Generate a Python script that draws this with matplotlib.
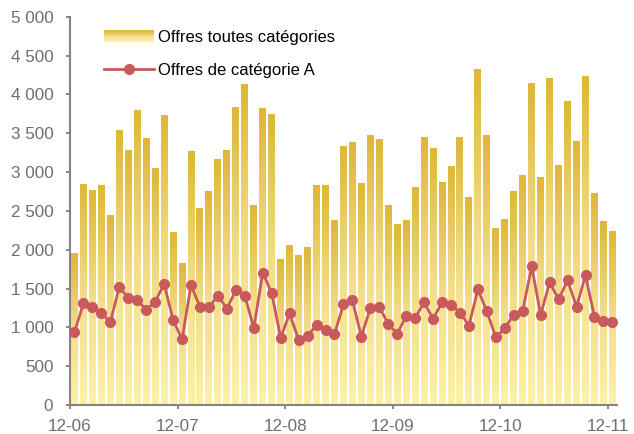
import matplotlib
matplotlib.use("Agg")
import matplotlib.pyplot as plt
import numpy as np
from matplotlib.colors import LinearSegmentedColormap
from matplotlib.legend_handler import HandlerBase
from matplotlib.patches import Rectangle
from matplotlib.lines import Line2D
from matplotlib.ticker import FuncFormatter

plt.rcParams['font.family'] = ['Liberation Sans', 'DejaVu Sans']

# monthly values, 12-06 .. 12-11
offres_total = [1950, 2835, 2760, 2820, 2435, 3530, 3275, 3790, 3430, 3045, 3725, 2215,
                1820, 3260, 2525, 2745, 3155, 3275, 3825, 4125, 2565, 3815, 3735, 1870,
                2060, 1920, 2025, 2820, 2820, 2370, 3325, 3375, 2850, 3465, 3415, 2565,
                2320, 2370, 2795, 3440, 3300, 2860, 3065, 3440, 2670, 4315, 3465, 2270,
                2385, 2745, 2950, 4135, 2925, 4200, 3080, 3905, 3390, 4225, 2720, 2360, 2230]
offres_a = [935, 1310, 1260, 1185, 1065, 1520, 1380, 1355, 1225, 1330, 1560, 1095,
            845, 1545, 1260, 1260, 1410, 1240, 1480, 1410, 990, 1705, 1440, 865,
            1180, 835, 890, 1030, 965, 910, 1295, 1350, 880, 1250, 1260, 1045,
            915, 1150, 1120, 1325, 1105, 1325, 1290, 1190, 1020, 1490, 1205, 870,
            990, 1165, 1215, 1785, 1160, 1580, 1360, 1605, 1265, 1670, 1135, 1080, 1070]
year_labels = ['12-06', '12-07', '12-08', '12-09', '12-10', '12-11']

grey = '#858585'
text_grey = '#6e6e6e'
red = '#c95a5c'
cmap = LinearSegmentedColormap.from_list('gold', ['#fdf1aa', '#f3dd8a', '#dfb737'])

fig = plt.figure(figsize=(6.34, 4.34), dpi=100)
ax = fig.add_axes([0.1104, 0.0668, 0.8626, 0.8947])

x = np.arange(len(offres_total))
bars = ax.bar(x, offres_total, width=0.78, color='none', edgecolor='none', zorder=2)
grad = np.linspace(0, 1, 256).reshape(-1, 1)
for b in bars:
    x0, w, h = b.get_x(), b.get_width(), b.get_height()
    ax.imshow(grad, extent=(x0, x0 + w, 0, h), origin='lower', aspect='auto',
              cmap=cmap, zorder=2, interpolation='bilinear')

ax.plot(x, offres_a, color=red, lw=2.0, marker='o', markersize=7,
        markeredgecolor=red, zorder=3)

ax.set_xlim(-0.5, len(x) - 0.5)
ax.set_ylim(0, 5000)
ax.set_yticks(np.arange(0, 5001, 500))
ax.yaxis.set_major_formatter(FuncFormatter(lambda v, p: '{:,}'.format(int(v)).replace(',', ' ')))
ax.set_xticks(np.arange(len(year_labels)) * 12 - 0.5)
ax.set_xticklabels(year_labels)

for s in ['top', 'right']:
    ax.spines[s].set_visible(False)
for s in ['left', 'bottom']:
    ax.spines[s].set_color(grey)
    ax.spines[s].set_linewidth(1.5)
ax.tick_params(axis='both', colors=grey, labelcolor=text_grey, labelsize=12.3,
               length=3, width=1.4, direction='out')
ax.tick_params(axis='y', pad=9)
ax.tick_params(axis='x', pad=7)


class GradientHandler(HandlerBase):
    def create_artists(self, legend, orig, xd, yd, width, height, fontsize, trans):
        n = 20
        out = []
        for i in range(n):
            r = Rectangle((-xd, -yd + height * i / n), width, height / n + 0.3,
                          facecolor=cmap(i / (n - 1)), edgecolor='none', transform=trans)
            out.append(r)
        return out


bar_handle = Rectangle((0, 0), 1, 1)
line_handle = Line2D([], [], color=red, lw=2.0, marker='o', markersize=7)
ax.legend([bar_handle, line_handle], ['Offres toutes catégories', 'Offres de catégorie A'],
          handler_map={Rectangle: GradientHandler()}, loc='upper left',
          bbox_to_anchor=(104 / 634, 1 - 30 / 434), bbox_transform=fig.transFigure,
          frameon=False, fontsize=12, handlelength=3.0, handletextpad=0.25,
          labelspacing=1.08, borderpad=0, borderaxespad=0)

fig.savefig('out.png', dpi=100)
